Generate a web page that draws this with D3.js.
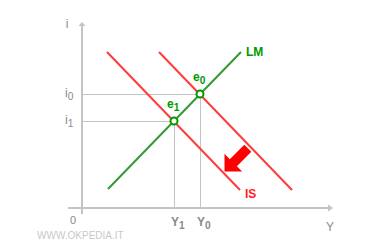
<!DOCTYPE html>
<html>
<head>
<meta charset="utf-8">
<script src="https://cdn.jsdelivr.net/npm/d3@7"></script>
<style>
html,body{margin:0;padding:0;background:#fff;}
svg{display:block;font-family:"Liberation Sans",Arial,sans-serif;}
</style>
</head>
<body>
<svg id="chart" width="370" height="250"></svg>
<script>
// Data (abstract units: x 0..250, y 0..186)
const isCurve0 = [[77,156],[210,18]];   // initial IS (right)
const isCurve1 = [[25,156],[158,18]];   // shifted IS (left)
const lmCurve  = [[26,19],[159,156]];
const equilibria = [
  {name:"e", sub:"0", x:118, y:114},
  {name:"e", sub:"1", x:92,  y:87}
];
const xTickLabels = [{name:"Y", sub:"1", x:92},{name:"Y", sub:"0", x:118}];
const yTickLabels = [{name:"i", sub:"0", y:114},{name:"i", sub:"1", y:87}];
const shiftArrow = {from:[165.8,59.8], to:[142.5,36.5]};

const svg = d3.select("#chart");
const x = d3.scaleLinear().domain([0,250]).range([82,332]);
const y = d3.scaleLinear().domain([0,186]).range([208,22]);

const gray = "#c4c4c4", labelGray = "#8a8a8a";
const red = "#ff3b3b", green = "#339933", green2 = "#009900";

// gridlines
equilibria.forEach(e=>{
  svg.append("line").attr("x1",x(0)).attr("x2",x(e.x)).attr("y1",y(e.y)).attr("y2",y(e.y))
    .attr("stroke",gray).attr("stroke-width",1).attr("shape-rendering","crispEdges");
  svg.append("line").attr("x1",x(e.x)).attr("x2",x(e.x)).attr("y1",y(e.y)).attr("y2",y(0))
    .attr("stroke",gray).attr("stroke-width",1).attr("shape-rendering","crispEdges");
});

// axes
svg.append("line").attr("x1",x(0)).attr("x2",x(0)).attr("y1",y(-6)).attr("y2",y(184))
  .attr("stroke",gray).attr("stroke-width",2);
svg.append("line").attr("x1",x(-14)).attr("x2",x(249)).attr("y1",y(0)).attr("y2",y(0))
  .attr("stroke",gray).attr("stroke-width",2);
// arrowheads
svg.append("path").attr("d",`M${x(0)-3.5},${y(182)} L${x(0)},${y(186)} L${x(0)+3.5},${y(182)} Z`).attr("fill",gray);
svg.append("path").attr("d",`M${x(246)},${y(0)-3.5} L${x(251)},${y(0)} L${x(246)},${y(0)+3.5} Z`).attr("fill",gray);

// axis labels
svg.append("text").attr("x",67).attr("y",28).attr("fill",labelGray).attr("font-size",12).attr("text-anchor","middle").text("i");
svg.append("text").attr("x",330).attr("y",231).attr("fill",labelGray).attr("font-size",12).attr("text-anchor","middle").text("Y");
svg.append("text").attr("x",73).attr("y",224).attr("fill",labelGray).attr("font-size",11).attr("font-weight","300").attr("text-anchor","middle").text("0");

function subLabel(px,py,name,sub,fill,size,weight){
  const t = svg.append("text").attr("x",px).attr("y",py).attr("fill",fill).attr("font-size",size).attr("font-weight",weight);
  t.append("tspan").text(name);
  t.append("tspan").attr("dy",3).attr("font-size",size*0.85).text(sub);
  return t;
}
yTickLabels.forEach(d=> subLabel(65, y(d.y)+3, d.name, d.sub, labelGray, 12, "normal"));
xTickLabels.forEach(d=> subLabel(x(d.x)-3, 226, d.name, d.sub, labelGray, 12, "bold"));

// curves
const line = d3.line().x(d=>x(d[0])).y(d=>y(d[1]));
svg.append("path").attr("d",line(isCurve0)).attr("stroke",red).attr("stroke-width",2).attr("fill","none");
svg.append("path").attr("d",line(isCurve1)).attr("stroke",red).attr("stroke-width",2).attr("fill","none");
svg.append("path").attr("d",line(lmCurve)).attr("stroke",green).attr("stroke-width",2).attr("fill","none");

// shift arrow
(function(){
  const [tx,ty] = [x(shiftArrow.to[0]), y(shiftArrow.to[1])];
  const [fx,fy] = [x(shiftArrow.from[0]), y(shiftArrow.from[1])];
  const L = Math.hypot(tx-fx, ty-fy);
  const dx=(tx-fx)/L, dy=(ty-fy)/L, px=-dy, py=dx;
  const headLen=12.5, headHalf=12.5, shaftHalf=5;
  const bx=tx-dx*headLen, by=ty-dy*headLen;
  const pts=[
    [fx+px*shaftHalf, fy+py*shaftHalf],
    [bx+px*shaftHalf, by+py*shaftHalf],
    [bx+px*headHalf, by+py*headHalf],
    [tx,ty],
    [bx-px*headHalf, by-py*headHalf],
    [bx-px*shaftHalf, by-py*shaftHalf],
    [fx-px*shaftHalf, fy-py*shaftHalf]
  ];
  svg.append("path").attr("d","M"+pts.map(p=>p.join(",")).join("L")+"Z").attr("fill","#ff0000");
})();

// curve labels
svg.append("text").attr("x",246).attr("y",56).attr("fill",green2).attr("font-size",12).attr("font-weight","bold").text("LM");
svg.append("text").attr("x",245).attr("y",198).attr("fill","#ff2020").attr("font-size",12).attr("font-weight","bold").text("IS");

// equilibria
svg.selectAll("circle.eq").data(equilibria).join("circle").attr("class","eq")
  .attr("cx",d=>x(d.x)).attr("cy",d=>y(d.y)).attr("r",3.5)
  .attr("fill","#fff").attr("stroke",green2).attr("stroke-width",2);
equilibria.forEach(d=> subLabel(x(d.x)-7, y(d.y)-13, d.name, d.sub, green2, 12, "bold"));

// watermark
svg.append("text").attr("x",37).attr("y",239).attr("fill","#c8c8c8").attr("font-size",10).text("WWW.OKPEDIA.IT");
</script>
</body>
</html>
